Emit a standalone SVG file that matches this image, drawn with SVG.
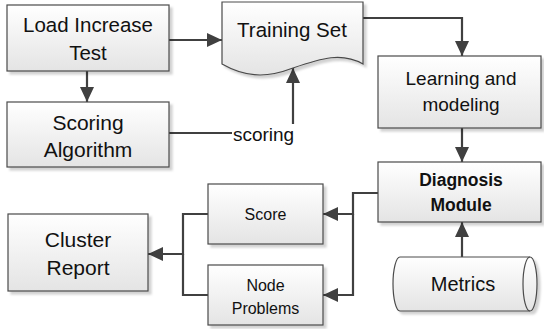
<svg xmlns="http://www.w3.org/2000/svg" width="544" height="329" viewBox="0 0 544 329">
<defs>
<linearGradient id="g" x1="0" y1="0" x2="0" y2="1">
<stop offset="0" stop-color="#ffffff"/>
<stop offset="1" stop-color="#e4e4e4"/>
</linearGradient>
<filter id="sh" x="-10%" y="-10%" width="130%" height="130%">
<feGaussianBlur in="SourceAlpha" stdDeviation="1"/>
<feOffset dx="3" dy="3" result="o"/>
<feFlood flood-color="#000" flood-opacity="0.18"/>
<feComposite in2="o" operator="in"/>
<feMerge><feMergeNode/><feMergeNode in="SourceGraphic"/></feMerge>
</filter>
<marker id="ah" markerUnits="userSpaceOnUse" markerWidth="16" markerHeight="14" refX="15" refY="7" orient="auto">
<path d="M0,0 L15,7 L0,14 Z" fill="#404040"/>
</marker>
</defs>
<style>
.box{fill:url(#g);stroke:#4a4a4a;stroke-width:1.2;filter:url(#sh)}
.t{font-family:"Liberation Sans",Arial,sans-serif;fill:#111;text-anchor:middle}
.c{fill:none;stroke:#404040;stroke-width:2.2}
.a{marker-end:url(#ah)}
</style>
<g id="connectors">
<path class="c a" d="M169,40 H222"/>
<path class="c a" d="M87,71 V102"/>
<path class="c a" d="M169,133 H293 V68"/>
<path class="c a" d="M363,18 H462 V56"/>
<path class="c a" d="M462,128 V162"/>
<path class="c a" d="M462,257 V222"/>
<path class="c a" d="M378,193 H353 V214 H323"/>
<path class="c a" d="M353,214 V295 H323"/>
<path class="c a" d="M208,214 H183 V254 H148"/>
<path class="c" d="M208,295 H183 V254"/>
<rect x="232" y="124" width="63" height="22" fill="#fff"/>
<text class="t" x="263.5" y="141" font-size="19">scoring</text>
</g>
<g id="load">
<rect class="box" x="7" y="5" width="162" height="66"/>
<text class="t" x="88" y="32" font-size="20.5">Load Increase</text>
<text class="t" x="88" y="60" font-size="20.5">Test</text>
</g>
<g id="scoringAlg">
<rect class="box" x="7" y="102" width="162" height="65"/>
<text class="t" x="88" y="130" font-size="21">Scoring</text>
<text class="t" x="88" y="157" font-size="21">Algorithm</text>
</g>
<g id="training">
<path class="box" d="M222,2 H363 V64 C342,52 322,58 293,68 C272,76 250,80 222,64 Z"/>
<text class="t" x="292" y="37" font-size="20.5">Training Set</text>
</g>
<g id="learning">
<rect class="box" x="378" y="56" width="163" height="72"/>
<text class="t" x="461" y="85" font-size="19">Learning and</text>
<text class="t" x="461" y="111" font-size="19">modeling</text>
</g>
<g id="diagnosis">
<rect class="box" x="378" y="162" width="163" height="60"/>
<text class="t" x="461" y="186" font-size="17.5" font-weight="bold">Diagnosis</text>
<text class="t" x="461" y="211" font-size="17.5" font-weight="bold">Module</text>
</g>
<g id="metrics">
<path class="box" d="M400,257 H530 A7,27 0 0 1 530,311 H400 A7,27 0 0 1 400,257 Z"/>
<path d="M530,257 A7,27 0 0 0 530,311" fill="none" stroke="#4a4a4a" stroke-width="1.2"/>
<text class="t" x="463" y="291" font-size="20">Metrics</text>
</g>
<g id="score">
<rect class="box" x="208" y="184" width="115" height="60"/>
<text class="t" x="265.5" y="220" font-size="16">Score</text>
</g>
<g id="nodeProblems">
<rect class="box" x="208" y="265" width="115" height="60"/>
<text class="t" x="265.5" y="291" font-size="16">Node</text>
<text class="t" x="265.5" y="314" font-size="16">Problems</text>
</g>
<g id="cluster">
<rect class="box" x="8" y="214" width="140" height="77"/>
<text class="t" x="78" y="247" font-size="21">Cluster</text>
<text class="t" x="78" y="275" font-size="21">Report</text>
</g>
</svg>
